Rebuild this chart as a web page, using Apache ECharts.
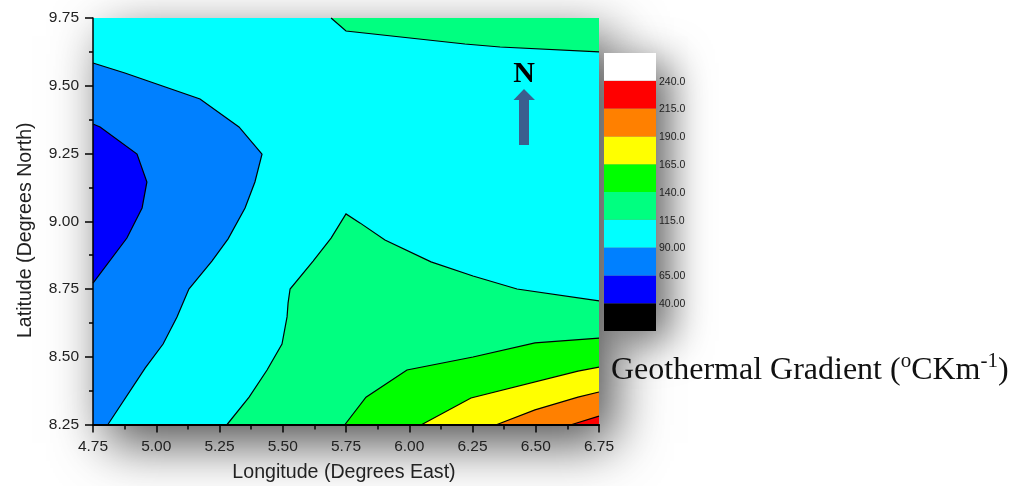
<!DOCTYPE html>
<html><head><meta charset="utf-8">
<script src="https://cdn.jsdelivr.net/npm/echarts@6/dist/echarts.min.js"></script>
<style>html,body{margin:0;padding:0;background:#fff}#c{width:1024px;height:486px}</style>
</head><body><div id="c"></div>
<script>
var lonMin = 4.75, lonMax = 6.75, latMin = 8.25, latMax = 9.75;

var contour65 = [[4.75,9.359],[4.778,9.348],[4.924,9.248],[4.963,9.145],[4.944,9.049],[4.884,8.938],[4.75,8.772]];
var contour90 = [[4.75,9.584],[4.876,9.547],[5.173,9.451],[5.327,9.348],[5.418,9.248],[5.39,9.145],[5.351,9.049],[5.284,8.935],[5.22,8.853],[5.129,8.75],[5.082,8.647],[5.027,8.547],[4.956,8.458],[4.809,8.25]];
var contour115a = [[5.691,9.75],[5.75,9.702],[6.22,9.654],[6.359,9.643],[6.75,9.625]];
var contour115b = [[5.28,8.25],[5.367,8.351],[5.438,8.451],[5.497,8.547],[5.517,8.647],[5.521,8.698],[5.529,8.75],[5.62,8.853],[5.691,8.938],[5.75,9.027],[5.805,8.994],[5.904,8.931],[6.086,8.85],[6.252,8.798],[6.426,8.75],[6.75,8.706]];
var contour140 = [[5.746,8.25],[5.829,8.351],[5.991,8.451],[6.252,8.499],[6.497,8.551],[6.75,8.569]];
var contour165 = [[6.05,8.25],[6.244,8.348],[6.667,8.447],[6.75,8.462]];
var contour190 = [[6.347,8.25],[6.497,8.304],[6.667,8.351],[6.75,8.37]];
var contour215 = [[6.643,8.25],[6.75,8.281]];

var legendColors = ['#000000','#0000ff','#0080ff','#00ffff','#00ff80','#00ff00','#ffff00','#ff8000','#ff0000','#ffffff'];
var legendLabels = ['','40.00','65.00','90.00','115.0','140.0','165.0','190.0','215.0','240.0',''];

var SE = [[lonMax,latMin]], NE = [[lonMax,latMax]], SW = [[lonMin,latMin]];
var frame = [[lonMin,latMax],[lonMax,latMax],[lonMax,latMin],[lonMin,latMin]];

function band(name, color, line, closing) {
  var pts = line.concat(closing);
  return {
    type:'custom', name:name, xAxisIndex:0, yAxisIndex:0, z:3, silent:true, clip:false,
    data: pts,
    renderItem:function(p, api){
      if (p.dataIndex !== 0) return null;
      var fill = pts.map(function(d){return api.coord(d);});
      var children = [{type:'polygon', shape:{points:fill}, style:{fill:color, stroke:null}}];
      if (line.length) children.push({type:'polyline', shape:{points:line.map(function(d){return api.coord(d);})}, style:{fill:null, stroke:'#000', lineWidth:1.2}});
      return {type:'group', children:children};
    }
  };
}

var series = [
  {type:'custom', name:'plot shadow', xAxisIndex:0, yAxisIndex:0, z:1, silent:true, data:frame,
   renderItem:function(p, api){
     if (p.dataIndex !== 0) return null;
     return {type:'polygon', shape:{points:frame.map(function(d){return api.coord(d);})},
       style:{fill:'#888', shadowBlur:50, shadowColor:'rgba(0,0,0,0.7)', shadowOffsetX:14, shadowOffsetY:18}};
   }},
  {type:'custom', name:'legend shadow', xAxisIndex:1, yAxisIndex:1, z:1, silent:true, data:[[0,0],[1,10]],
   renderItem:function(p, api){
     if (p.dataIndex !== 0) return null;
     var a = api.coord([0,10]), b = api.coord([1,0]);
     return {type:'rect', shape:{x:a[0], y:a[1], width:b[0]-a[0], height:b[1]-a[1]},
       style:{fill:'#888', shadowBlur:40, shadowColor:'rgba(0,0,0,0.6)', shadowOffsetX:14, shadowOffsetY:10}};
   }},
  band('90-115','#00ffff',[],frame),
  band('65-90','#0080ff',contour90,SW),
  band('40-65','#0000ff',contour65,[]),
  band('115-140 north','#00ff80',contour115a,NE),
  band('115-140','#00ff80',contour115b,SE),
  band('140-165','#00ff00',contour140,SE),
  band('165-190','#ffff00',contour165,SE),
  band('190-215','#ff8000',contour190,SE),
  band('215-240','#ff0000',contour215,SE),
  {type:'custom', name:'legend', xAxisIndex:1, yAxisIndex:1, z:3, silent:true,
   data: legendColors.map(function(c,i){return [i];}),
   renderItem:function(p, api){
     var i = api.value(0), a = api.coord([0,i+1]), b = api.coord([1,i]);
     return {type:'rect', shape:{x:a[0], y:a[1], width:b[0]-a[0], height:b[1]-a[1]}, style:{fill:legendColors[i]}};
   }}
];

var axisFont = 'Liberation Sans';
var option = {
  animation:false, backgroundColor:'#fff',
  grid:[
    {left:93, top:18, width:506, height:406.5, outerBoundsMode:'none'},
    {left:604, top:53, width:52, height:278, outerBoundsMode:'none'},
    {left:604, top:54, width:52, height:278, outerBoundsMode:'none'}
  ],
  xAxis:[
    {type:'value', gridIndex:0, min:lonMin, max:lonMax, interval:0.25, z:6, position:'bottom',
     name:'Longitude (Degrees East)', nameLocation:'middle', nameGap:38,
     nameTextStyle:{fontFamily:axisFont, fontSize:19.6, color:'#222', padding:[0,4,0,0]},
     axisLine:{show:true, onZero:false, lineStyle:{color:'#000', width:2}},
     axisTick:{show:true, length:8, inside:false, lineStyle:{color:'#000', width:1.5}},
     minorTick:{show:true, splitNumber:2, length:5, lineStyle:{color:'#000', width:1.5}},
     splitLine:{show:false}, minorSplitLine:{show:false},
     axisLabel:{fontFamily:axisFont, fontSize:15.5, color:'#222', margin:14, hideOverlap:false, showMinLabel:true, showMaxLabel:true, formatter:function(v){return v.toFixed(2);}}},
    {type:'value', gridIndex:1, min:0, max:1, show:false},
    {type:'value', gridIndex:2, min:0, max:1, show:false}
  ],
  yAxis:[
    {type:'value', gridIndex:0, min:latMin, max:latMax, interval:0.25, z:6,
     name:'Latitude (Degrees North)', nameLocation:'middle', nameGap:57, nameRotate:90,
     nameTextStyle:{fontFamily:axisFont, fontSize:19.6, color:'#222', padding:[0,18,0,0]},
     axisLine:{show:true, onZero:false, lineStyle:{color:'#000', width:1.5}},
     axisTick:{show:true, length:8, lineStyle:{color:'#000', width:1.5}},
     minorTick:{show:true, splitNumber:2, length:4, lineStyle:{color:'#000', width:1.5}},
     splitLine:{show:false}, minorSplitLine:{show:false},
     axisLabel:{fontFamily:axisFont, fontSize:15.5, color:'#222', margin:14, showMinLabel:true, showMaxLabel:true, formatter:function(v){return v.toFixed(2);}}},
    {type:'value', gridIndex:1, min:0, max:10, show:false},
    {type:'value', gridIndex:2, min:0, max:10, interval:1, position:'right', z:6,
     axisLine:{show:false}, axisTick:{show:false}, splitLine:{show:false},
     axisLabel:{fontFamily:axisFont, fontSize:10.5, color:'#222', margin:3, showMinLabel:true, showMaxLabel:true,
       formatter:function(v){return legendLabels[Math.round(v)];}}}
  ],
  graphic:[
    {type:'text', z:10, style:{x:524, y:74, text:'N', fontFamily:'Liberation Serif', fontWeight:'bold', fontSize:30, fill:'#000', align:'center', verticalAlign:'middle'}},
    {type:'polygon', z:10, shape:{points:[[524,89],[535,100],[529,100],[529,145],[519,145],[519,100],[513.5,100]]}, style:{fill:'#3b5f8e'}},
    {type:'text', z:10, style:{x:611, y:369, verticalAlign:'middle',
      text:'{a|Geothermal Gradient (}{s|o}{a|CKm}{s|-1}{a|)}',
      rich:{a:{fontFamily:'Liberation Serif', fontSize:32, fill:'#111', verticalAlign:'bottom', lineHeight:36},
            s:{fontFamily:'Liberation Serif', fontSize:21, fill:'#111', verticalAlign:'top', lineHeight:36}}}}
  ],
  series:series
};
var chart = echarts.init(document.getElementById('c'), null, {renderer:'canvas'});
chart.setOption(option);
</script></body></html>
